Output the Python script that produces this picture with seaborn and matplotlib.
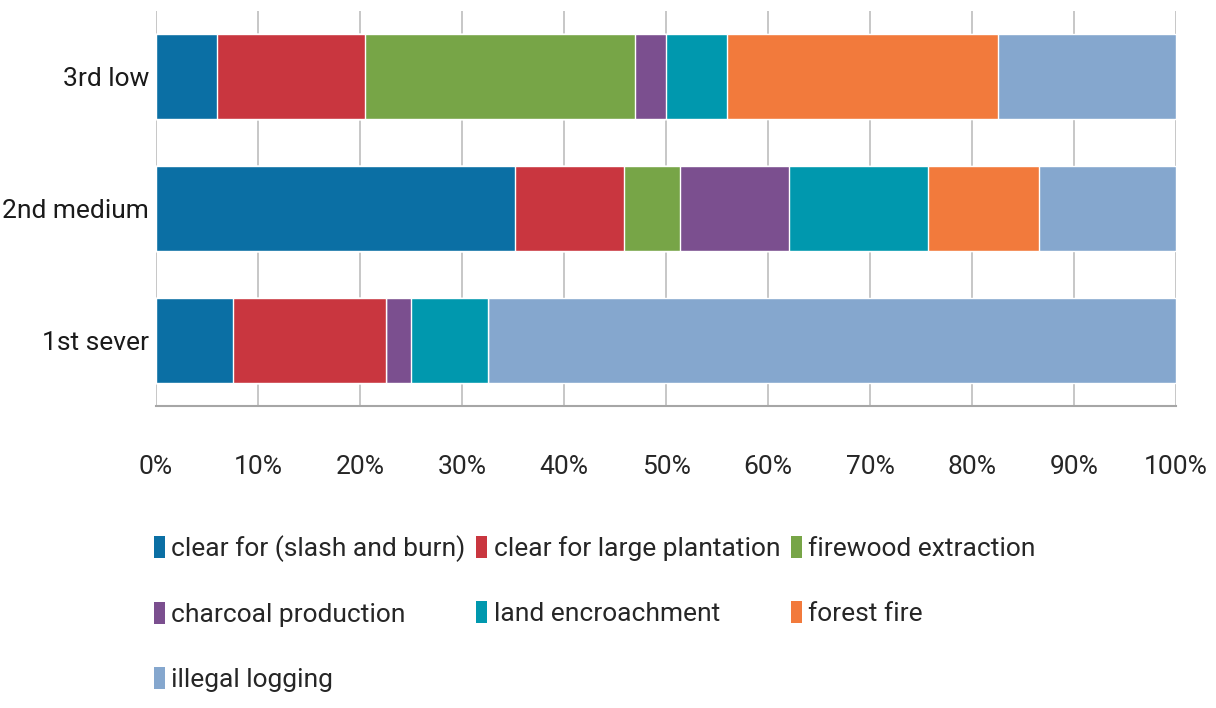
import matplotlib
matplotlib.use("Agg")
import matplotlib.pyplot as plt
from matplotlib.patches import Patch
from matplotlib.ticker import PercentFormatter
import numpy as np
import pandas as pd
import seaborn as sns

# Share of each deforestation cause (%) per severity class
categories = ["3rd low", "2nd medium", "1st sever"]
causes = [
    "clear for (slash and burn)",
    "clear for large plantation",
    "firewood extraction",
    "charcoal production",
    "land encroachment",
    "forest fire",
    "illegal logging",
]
slash_and_burn = [6.0, 35.2, 7.5]
large_plantation = [14.5, 10.7, 15.0]
firewood = [26.5, 5.5, 0.0]
charcoal = [3.0, 10.7, 2.5]
encroachment = [6.0, 13.6, 7.5]
forest_fire = [26.5, 10.9, 0.0]
illegal_logging = [17.5, 13.4, 67.5]

colors = ["#0B6FA4", "#C9363F", "#77A547", "#7B4F8F", "#0098AE", "#F27A3C", "#85A7CE"]

sns.set_theme(style="white")
plt.rcParams["font.family"] = ["Roboto", "DejaVu Sans"]

series = [slash_and_burn, large_plantation, firewood, charcoal,
          encroachment, forest_fire, illegal_logging]
df = pd.DataFrame({c: v for c, v in zip(causes, series)}, index=categories)
cum = df.cumsum(axis=1)

fig = plt.figure(figsize=(12.16, 7.08), dpi=100)
ax = fig.add_axes([156 / 1216, (708 - 406) / 708, 1020 / 1216, 395 / 708])

# Stacked bars: draw cumulative totals from the last cause backwards
for cause, color in reversed(list(zip(causes, colors))):
    sub = pd.DataFrame({"category": categories, "value": cum[cause].values})
    sns.barplot(data=sub, y="category", x="value", orient="h", color=color,
                saturation=1, width=0.645, ax=ax, zorder=2)

ax.set_xlim(0, 100)
ax.set_xticks(np.arange(0, 101, 10))
ax.xaxis.set_major_formatter(PercentFormatter(decimals=0))
ax.set_xlabel("")
ax.set_ylabel("")
ax.grid(axis="x", color="#BDBDBD", linewidth=1.2, zorder=0)
ax.set_axisbelow(True)
for side in ["top", "right", "left"]:
    ax.spines[side].set_visible(False)
ax.spines["bottom"].set_color("#A6A6A6")
ax.spines["bottom"].set_linewidth(1.5)
ax.tick_params(axis="x", length=0, pad=35, labelsize=19, colors="#262626")
ax.tick_params(axis="y", length=0, pad=5, labelsize=19, colors="#1a1a1a")

# Legend laid out row by row across three columns
handles = [Patch(facecolor=c, edgecolor="none") for c in colors]
order = [0, 3, 6, 1, 4, 2, 5]
fig.legend([handles[i] for i in order], [causes[i] for i in order],
           loc="upper left", bbox_to_anchor=(154 / 1216, 1 - 535 / 708),
           ncol=3, frameon=False, fontsize=19, handlelength=0.4,
           handleheight=0.9, handletextpad=0.25, columnspacing=0.42,
           labelspacing=1.52, borderaxespad=0, borderpad=0)

fig.savefig("out.png", dpi=100)
